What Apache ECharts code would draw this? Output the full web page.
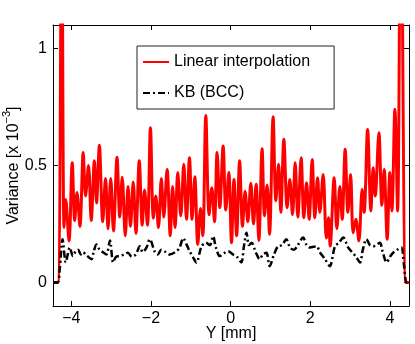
<!DOCTYPE html>
<html>
<head>
    <meta charset="utf-8">
    <title>Variance</title>
    <script src="https://cdn.jsdelivr.net/npm/echarts@6/dist/echarts.min.js"></script>
</head>
<body style="margin:0;background:#fff;">
    <div id="main" style="width: 415px;height:344px;"></div>
    <script type="text/javascript">
        // Y position [mm] and variance [x 1e-3]
        var linX = [-4.46, -4.342, -4.241, -4.183, -4.141, -4.058, -3.977, -3.915, -3.857, -3.784,
            -3.701, -3.643, -3.568, -3.500, -3.420, -3.367, -3.296, -3.211, -3.141, -3.078,
            -3.010, -2.942, -2.852, -2.784, -2.721, -2.646, -2.575, -2.515, -2.445, -2.377,
            -2.294, -2.219, -2.161, -2.088, -2.013, -1.940, -1.879, -1.812, -1.739, -1.678,
            -1.595, -1.515, -1.457, -1.394, -1.327, -1.251, -1.176, -1.108, -1.033, -0.967,
            -0.899, -0.824, -0.756, -0.698, -0.623, -0.540, -0.472, -0.405, -0.339, -0.271,
            -0.188, -0.121, -0.045, 0.023, 0.085, 0.151, 0.226, 0.299, 0.364, 0.432,
            0.508, 0.575, 0.641, 0.709, 0.791, 0.852, 0.917, 0.977, 1.068, 1.136,
            1.204, 1.261, 1.337, 1.420, 1.487, 1.555, 1.621, 1.688, 1.771, 1.839,
            1.907, 1.972, 2.048, 2.116, 2.183, 2.241, 2.324, 2.405, 2.460, 2.500,
            2.601, 2.668, 2.744, 2.802, 2.877, 2.945, 3.013, 3.078, 3.146, 3.221,
            3.304, 3.354, 3.440, 3.523, 3.580, 3.631, 3.724, 3.799, 3.857, 3.932,
            4.000, 4.050, 4.126, 4.193, 4.276, 4.402, 4.485];
        var linY = [0, 0, 1.6, 0.235, 0.355, 0.178, 0.512, 0.265, 0.385, 0.24,
            0.555, 0.37, 0.5, 0.265, 0.52, 0.34, 0.586, 0.26, 0.445, 0.23,
            0.445, 0.22, 0.535, 0.28, 0.45, 0.2, 0.41, 0.24, 0.43, 0.21,
            0.52, 0.245, 0.395, 0.245, 0.661, 0.275, 0.37, 0.235, 0.445, 0.28,
            0.483, 0.2, 0.41, 0.235, 0.47, 0.285, 0.505, 0.27, 0.533, 0.27,
            0.452, 0.163, 0.316, 0.2, 0.714, 0.29, 0.405, 0.26, 0.555, 0.32,
            0.583, 0.31, 0.47, 0.17, 0.44, 0.2, 0.52, 0.24, 0.39, 0.26,
            0.424, 0.25, 0.42, 0.18, 0.572, 0.285, 0.417, 0.206, 0.708, 0.35,
            0.505, 0.3, 0.612, 0.32, 0.44, 0.29, 0.512, 0.28, 0.533, 0.277,
            0.426, 0.27, 0.526, 0.277, 0.448, 0.3, 0.462, 0.19, 0.277, 0.156,
            0.448, 0.23, 0.41, 0.27, 0.569, 0.3, 0.462, 0.213, 0.27, 0.178,
            0.398, 0.3, 0.654, 0.306, 0.49, 0.37, 0.64, 0.33, 0.483, 0.185,
            0.47, 0.306, 0.74, 0.306, 1.8, 0, 0];

        var kbX = [-4.46, -4.34, -4.29, -4.22, -4.14, -4.09, -4.04, -3.96, -3.89, -3.83,
            -3.76, -3.71, -3.61, -3.49, -3.44, -3.37, -3.29, -3.21, -3.12, -3.03,
            -2.95, -2.88, -2.78, -2.68, -2.58, -2.48, -2.38, -2.28, -2.21, -2.11,
            -2.03, -1.90, -1.83, -1.74, -1.63, -1.53, -1.36, -1.28, -1.19, -1.10,
            -1.03, -0.95, -0.86, -0.73, -0.62, -0.52, -0.44, -0.37, -0.27, -0.17,
            -0.06, 0.06, 0.16, 0.27, 0.33, 0.40, 0.46, 0.53, 0.63, 0.73,
            0.81, 0.90, 0.98, 1.09, 1.19, 1.29, 1.40, 1.49, 1.59, 1.69,
            1.82, 1.91, 1.99, 2.16, 2.24, 2.37, 2.49, 2.62, 2.72, 2.83,
            2.95, 3.05, 3.15, 3.25, 3.32, 3.41, 3.50, 3.58, 3.65, 3.75,
            3.82, 3.92, 4.00, 4.08, 4.18, 4.29, 4.35, 4.42, 4.48];
        var kbY = [0, 0, 0.06, 0.185, 0.086, 0.12, 0.15, 0.113, 0.135, 0.14,
            0.12, 0.13, 0.115, 0.1, 0.13, 0.163, 0.14, 0.13, 0.12, 0.18,
            0.086, 0.11, 0.113, 0.12, 0.127, 0.11, 0.12, 0.155, 0.13, 0.15,
            0.185, 0.13, 0.12, 0.14, 0.13, 0.12, 0.134, 0.15, 0.19, 0.16,
            0.134, 0.11, 0.086, 0.155, 0.17, 0.16, 0.198, 0.15, 0.113, 0.125,
            0.134, 0.12, 0.11, 0.086, 0.15, 0.213, 0.16, 0.17, 0.13, 0.1,
            0.12, 0.127, 0.07, 0.12, 0.155, 0.16, 0.185, 0.15, 0.14, 0.16,
            0.192, 0.16, 0.15, 0.155, 0.13, 0.1, 0.07, 0.155, 0.17, 0.192,
            0.15, 0.13, 0.11, 0.086, 0.14, 0.185, 0.16, 0.155, 0.16, 0.17,
            0.13, 0.086, 0.11, 0.127, 0.14, 0.15, 0.08, 0, 0];

        var xTicks = [-4, -2, 0, 2, 4];
        var yTicks = [0, 0.5, 1];

        var font = 'Liberation Sans, Arial, Helvetica, sans-serif';
        var myChart = echarts.init(document.getElementById('main'));

        function pairs(xs, ys) {
            return xs.map(function (x, i) { return [x, ys[i]]; });
        }
        function minus(v) {
            return String(v).replace('-', '\u2212');
        }

        var xBase = {
            type: 'value', min: -4.46, max: 4.48,
            splitLine: { show: false },
            axisLine: { show: true, onZero: false, lineStyle: { color: '#000', width: 1 } },
            axisTick: { show: true, inside: true, length: 5, customValues: xTicks, lineStyle: { color: '#000' } }
        };
        var yBase = {
            type: 'value', min: -0.1, max: 1.1,
            splitLine: { show: false },
            axisLine: { show: true, onZero: false, lineStyle: { color: '#000', width: 1 } },
            axisTick: { show: true, inside: true, length: 5, customValues: yTicks, lineStyle: { color: '#000' } }
        };

        var option = {
            animation: false,
            backgroundColor: '#fff',
            textStyle: { fontFamily: font },
            grid: { left: 53, right: 6, top: 25, bottom: 38, containLabel: false, outerBoundsMode: 'none' },
            legend: {
                orient: 'vertical',
                left: 137, top: 46,
                padding: [8, 24, 8, 5],
                itemWidth: 26, itemHeight: 16, itemGap: 15,
                backgroundColor: '#fff',
                borderColor: '#222', borderWidth: 1,
                itemStyle: { opacity: 0 },
                textStyle: { fontSize: 16, color: '#000', fontFamily: font },
                data: ['Linear interpolation', 'KB (BCC)']
            },
            xAxis: [
                Object.assign({}, xBase, {
                    position: 'bottom',
                    name: 'Y [mm]', nameLocation: 'middle', nameGap: 20, nameMoveOverlap: false,
                    nameTextStyle: { fontSize: 16, color: '#000', fontFamily: font },
                    axisLabel: {
                        customValues: xTicks, margin: 5, fontSize: 16, color: '#000', fontFamily: font,
                        formatter: minus
                    }
                }),
                Object.assign({}, xBase, { position: 'top', axisLabel: { show: false } })
            ],
            yAxis: [
                Object.assign({}, yBase, {
                    position: 'left',
                    name: '{a|Variance [x 10}{s|\u22123}{a|]}', nameLocation: 'middle', nameGap: 31, nameMoveOverlap: false,
                    nameTextStyle: {
                        fontSize: 16, color: '#000', fontFamily: font,
                        rich: {
                            a: { fontSize: 16, color: '#000', fontFamily: font, lineHeight: 21, verticalAlign: 'bottom' },
                            s: { fontSize: 11, color: '#000', fontFamily: font, lineHeight: 21, verticalAlign: 'top' }
                        }
                    },
                    axisLabel: { customValues: yTicks, margin: 6, fontSize: 16, color: '#000', fontFamily: font }
                }),
                Object.assign({}, yBase, { position: 'right', axisLabel: { show: false } })
            ],
            series: [
                {
                    name: 'Linear interpolation',
                    type: 'line',
                    xAxisIndex: 0, yAxisIndex: 0,
                    data: pairs(linX, linY),
                    showSymbol: false, symbol: 'none',
                    smooth: 0.35,
                    clip: true,
                    color: '#ff0000',
                    lineStyle: { color: '#ff0000', width: 3 }
                },
                {
                    name: 'KB (BCC)',
                    type: 'line',
                    xAxisIndex: 0, yAxisIndex: 0,
                    data: pairs(kbX, kbY),
                    showSymbol: false, symbol: 'none',
                    smooth: 0.3,
                    clip: true,
                    color: '#000',
                    lineStyle: { color: '#000', width: 2.5, type: [7, 3, 2, 3] }
                }
            ]
        };

        myChart.setOption(option);
    </script>
</body>
</html>
